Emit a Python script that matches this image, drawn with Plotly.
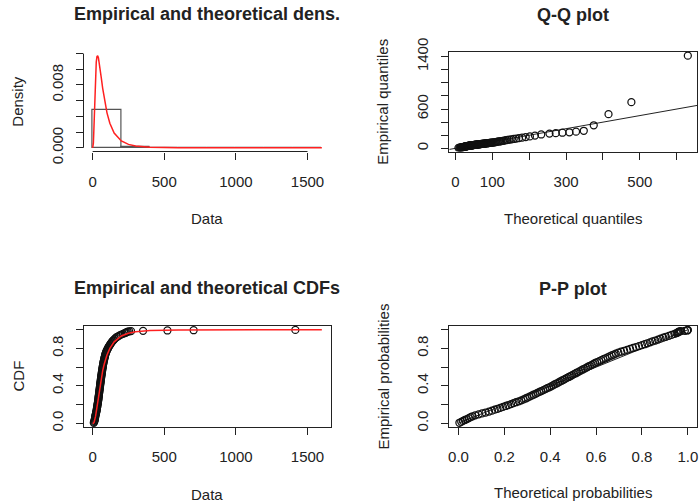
import plotly.graph_objects as go

W, H = 700, 504
FONT = "Liberation Sans, Arial, sans-serif"
INK = "#222222"

# ---------------- data ----------------
# empirical cumulative probabilities of the plotted (sorted) observations
emp_prob = [
    0.005, 0.015, 0.025, 0.035, 0.045, 0.055, 0.065, 0.075, 0.085, 0.095,
    0.105, 0.115, 0.125, 0.135, 0.145, 0.155, 0.165, 0.175, 0.185, 0.195,
    0.205, 0.215, 0.225, 0.235, 0.245, 0.255, 0.265, 0.275, 0.285, 0.295,
    0.305, 0.315, 0.325, 0.335, 0.345, 0.355, 0.365, 0.375, 0.385, 0.395,
    0.405, 0.415, 0.425, 0.435, 0.445, 0.455, 0.465, 0.475, 0.485, 0.495,
    0.505, 0.515, 0.525, 0.535, 0.545, 0.555, 0.565, 0.575, 0.585, 0.595,
    0.605, 0.615, 0.625, 0.635, 0.645, 0.655, 0.665, 0.675, 0.685, 0.695,
    0.705, 0.715, 0.725, 0.735, 0.745, 0.755, 0.765, 0.775, 0.785, 0.795,
    0.805, 0.815, 0.825, 0.835, 0.845, 0.855, 0.865, 0.875, 0.885, 0.895,
    0.905, 0.915, 0.925, 0.935, 0.945, 0.955,
    0.965, 0.970, 0.975, 0.979, 0.982, 0.985, 0.988, 0.992, 0.995, 0.998,
]

# sorted observed data
data_sorted = [
    7.8, 10.5, 12.5, 14.0, 15.3, 16.5, 17.5, 18.5, 19.9, 21.6,
    23.1, 24.5, 26.0, 27.3, 28.4, 29.5, 30.5, 31.6, 32.7, 33.7,
    34.7, 35.8, 36.8, 37.8, 38.8, 39.7, 40.5, 41.2, 42.1, 43.0,
    43.7, 44.5, 45.3, 46.2, 47.0, 47.9, 48.8, 49.5, 50.5, 51.3,
    52.0, 52.9, 53.7, 54.6, 55.3, 56.2, 57.1, 57.9, 58.8, 59.8,
    60.7, 61.5, 62.5, 63.4, 64.3, 65.4, 66.3, 67.3, 68.4, 69.5,
    70.5, 71.6, 72.7, 73.8, 74.9, 76.2, 77.7, 79.1, 80.6, 82.1,
    83.7, 85.3, 86.9, 88.6, 90.4, 92.6, 95.4, 98.2, 101.3, 104.4,
    107.8, 111.4, 115.3, 119.5, 123.5, 127.7, 132.4, 137.3, 143.0, 149.0,
    155.7, 163.2, 171.6, 182.3, 195.0, 211.5,
    225, 232, 238, 245, 255, 268, 352, 522, 705, 1415,
]

# theoretical quantiles (Q-Q x values)
theo_quant = [
    8.3, 11.4, 13.4, 15.1, 16.5, 17.8, 19.0, 20.2, 21.3, 22.3,
    23.3, 24.3, 25.3, 26.2, 27.2, 28.1, 29.0, 29.9, 30.8, 31.7,
    32.6, 33.5, 34.4, 35.3, 36.2, 37.1, 38.0, 38.9, 39.8, 40.7,
    41.6, 42.6, 43.5, 44.4, 45.4, 46.4, 47.3, 48.4, 49.3, 50.4,
    51.4, 52.4, 53.5, 54.6, 55.6, 56.8, 57.9, 59.0, 60.3, 61.4,
    62.6, 63.8, 65.1, 66.4, 67.7, 69.1, 70.4, 71.9, 73.3, 74.8,
    76.3, 77.9, 79.5, 81.2, 82.9, 84.6, 86.5, 88.3, 90.3, 92.3,
    94.4, 96.6, 98.8, 101.2, 103.6, 106.2, 108.9, 111.7, 114.7, 117.9,
    121.2, 124.7, 128.5, 132.5, 136.8, 141.5, 146.5, 152.1, 158.1, 164.8,
    172.3, 180.8, 190.5, 201.9, 215.6, 232.6,
    255, 272, 290, 309, 327, 348, 375, 415, 477, 630,
]

# theoretical probabilities (P-P x values)
theo_prob = [
    0.004, 0.012, 0.020, 0.028, 0.037, 0.045, 0.053, 0.061, 0.073, 0.088,
    0.103, 0.118, 0.133, 0.146, 0.158, 0.170, 0.182, 0.194, 0.206, 0.217,
    0.229, 0.240, 0.251, 0.263, 0.274, 0.284, 0.293, 0.301, 0.310, 0.319,
    0.327, 0.336, 0.344, 0.353, 0.361, 0.370, 0.379, 0.387, 0.396, 0.404,
    0.412, 0.419, 0.427, 0.435, 0.442, 0.450, 0.458, 0.465, 0.473, 0.481,
    0.489, 0.496, 0.504, 0.512, 0.519, 0.527, 0.535, 0.542, 0.550, 0.558,
    0.565, 0.573, 0.581, 0.589, 0.596, 0.605, 0.614, 0.623, 0.632, 0.641,
    0.650, 0.659, 0.668, 0.677, 0.686, 0.697, 0.709, 0.722, 0.735, 0.748,
    0.761, 0.774, 0.787, 0.800, 0.812, 0.823, 0.835, 0.846, 0.858, 0.870,
    0.881, 0.893, 0.904, 0.917, 0.929, 0.942,
    0.951, 0.955, 0.958, 0.961, 0.965, 0.970, 0.987, 0.997, 0.999, 1.000,
]

# fitted density curve (red)
dens_x = [0, 5, 7.5, 10, 12.5, 15, 20, 25, 30, 35, 40, 45, 50, 60, 70, 80, 90,
          100, 120, 150, 200, 250, 300, 400, 600, 1000, 1600]
dens_y = [0, 0.00059, 0.00183, 0.0035, 0.00523, 0.00685, 0.00939, 0.01091,
          0.01161, 0.01173, 0.01147, 0.01097, 0.01034, 0.00895, 0.00758,
          0.00636, 0.00532, 0.00445, 0.00313, 0.00189, 0.00087, 0.000435,
          0.000232, 0.000077, 0.000013, 0.000001, 0]

# fitted CDF curve (red)
cdf_x = [0, 5, 10, 15, 20, 25, 30, 40, 50, 60, 70, 80, 100, 120, 150, 200,
         250, 300, 400, 600, 1000, 1600]
cdf_y = [0, 0.0006, 0.0097, 0.0345, 0.0735, 0.122, 0.176, 0.287, 0.391,
         0.483, 0.562, 0.628, 0.730, 0.801, 0.871, 0.933, 0.963, 0.978,
         0.9916, 0.9982, 0.9998, 1.0]

# histogram (density scale)
hist_edges = [0, 200, 400, 600, 800, 1000, 1200, 1400, 1600]
hist_density = [0.0048, 0.00015, 0.0000167, 0.0000167, 0, 0, 0, 0.0000167]

# ticks
dens_xticks = [0, 500, 1000, 1500]
dens_yticks = [0, 0.002, 0.004, 0.006, 0.008, 0.010, 0.012]
dens_ylabels = ["0.000", "", "", "", "0.008", "", ""]
qq_xticks = [0, 100, 200, 300, 400, 500, 600]
qq_xlabels = ["0", "100", "", "300", "", "500", ""]
qq_yticks = [0, 200, 400, 600, 800, 1000, 1200, 1400]
qq_ylabels = ["0", "", "", "600", "", "", "", "1400"]
prob_ticks = [0, 0.2, 0.4, 0.6, 0.8, 1.0]
prob_ylabels = ["0.0", "", "0.4", "", "0.8", ""]
prob_xlabels = ["0.0", "0.2", "0.4", "0.6", "0.8", "1.0"]

assert len(emp_prob) == len(data_sorted) == len(theo_quant) == len(theo_prob)


def pad(lo, hi, f=0.04):
    d = (hi - lo) * f
    return [lo - d, hi + d]


def dom_x(a, b):
    return [a / W, b / W]


def dom_y(top, bottom):
    return [1 - bottom / H, 1 - top / H]


LEFT = (83.5, 331)
RIGHT = (449.3, 697)
TOP = (52, 151.5)
BOT = (326, 427)

fig = go.Figure()

# ---- panel 1: histogram + density
centers = [(hist_edges[i] + hist_edges[i + 1]) / 2 for i in range(len(hist_density))]
widths = [hist_edges[i + 1] - hist_edges[i] for i in range(len(hist_density))]
fig.add_trace(go.Bar(x=centers, y=hist_density, width=widths,
                     marker=dict(color="rgba(0,0,0,0)", line=dict(color="#555555", width=1.2)),
                     xaxis="x", yaxis="y", showlegend=False, hoverinfo="skip"))
fig.add_trace(go.Scatter(x=dens_x, y=dens_y, mode="lines",
                         line=dict(color="#ff2020", width=1.5),
                         xaxis="x", yaxis="y", showlegend=False))

# ---- panel 2: Q-Q
qq_xr = pad(min(theo_quant), max(theo_quant))
qq_yr = pad(min(data_sorted), max(data_sorted))
fig.add_trace(go.Scatter(x=qq_xr, y=qq_xr, mode="lines",
                         line=dict(color=INK, width=1),
                         xaxis="x2", yaxis="y2", showlegend=False))
MK = dict(symbol="circle-open", size=7, color="#111111", line=dict(width=1.25))
fig.add_trace(go.Scatter(x=theo_quant, y=data_sorted, mode="markers", marker=MK,
                         xaxis="x2", yaxis="y2", showlegend=False))

# ---- panel 3: CDFs
fig.add_trace(go.Scatter(x=data_sorted, y=emp_prob, mode="markers", marker=MK,
                         xaxis="x3", yaxis="y3", showlegend=False))
fig.add_trace(go.Scatter(x=cdf_x, y=cdf_y, mode="lines",
                         line=dict(color="#ff2020", width=1.5),
                         xaxis="x3", yaxis="y3", showlegend=False))

# ---- panel 4: P-P
fig.add_trace(go.Scatter(x=[0, 1], y=[0, 1], mode="lines",
                         line=dict(color=INK, width=1),
                         xaxis="x4", yaxis="y4", showlegend=False))
fig.add_trace(go.Scatter(x=theo_prob, y=emp_prob, mode="markers", marker=MK,
                         xaxis="x4", yaxis="y4", showlegend=False))

tickfont = dict(family=FONT, size=15, color=INK)


def xax(domain, rng, tv, tt, anchor, box=True):
    return dict(domain=domain, range=rng, tickvals=tv, ticktext=tt, anchor=anchor,
                showgrid=False, zeroline=False, showline=box, mirror=box,
                linecolor=INK, linewidth=1, ticks="outside", ticklen=7,
                tickwidth=1, tickcolor=INK, tickfont=tickfont, automargin=False,
                ticklabelstandoff=9, fixedrange=True)


def yax(domain, rng, tv, tt, anchor, box=True):
    return dict(domain=domain, range=rng, tickvals=tv, ticktext=tt, anchor=anchor,
                showgrid=False, zeroline=False, showline=box, mirror=box,
                linecolor=INK, linewidth=1, ticks="outside", ticklen=7,
                tickwidth=1, tickcolor=INK, tickfont=tickfont, tickangle=-90,
                automargin=False, ticklabelstandoff=7, fixedrange=True)


data_xr = pad(hist_edges[0], hist_edges[-1])
dens_yr = pad(0, max(max(dens_y), max(hist_density)))
prob_r = pad(0, 1)

fig.update_layout(
    width=W, height=H, margin=dict(l=0, r=0, t=0, b=0, pad=0, autoexpand=False),
    paper_bgcolor="white", plot_bgcolor="white",
    xaxis=xax(dom_x(*LEFT), data_xr, dens_xticks, [str(v) for v in dens_xticks], "y", box=False),
    yaxis=yax(dom_y(*TOP), dens_yr, dens_yticks, dens_ylabels, "x", box=False),
    xaxis2=xax(dom_x(*RIGHT), qq_xr, qq_xticks, qq_xlabels, "y2"),
    yaxis2=yax(dom_y(*TOP), qq_yr, qq_yticks, qq_ylabels, "x2"),
    xaxis3=xax(dom_x(*LEFT), data_xr, dens_xticks, [str(v) for v in dens_xticks], "y3"),
    yaxis3=yax(dom_y(*BOT), prob_r, prob_ticks, prob_ylabels, "x3"),
    xaxis4=xax(dom_x(*RIGHT), prob_r, prob_ticks, prob_xlabels, "y4"),
    yaxis4=yax(dom_y(*BOT), prob_r, prob_ticks, prob_ylabels, "x4"),
    bargap=0,
)

# panel 1 axis lines span only the tick range (R style)
y_bot = 1 - TOP[1] / H
x_left = LEFT[0] / W
fig.add_shape(type="line", xref="x", yref="paper", x0=dens_xticks[0], x1=dens_xticks[-1],
              y0=y_bot, y1=y_bot, line=dict(color=INK, width=1))
fig.add_shape(type="line", xref="paper", yref="y", x0=x_left, x1=x_left,
              y0=dens_yticks[0], y1=dens_yticks[-1], line=dict(color=INK, width=1))


def ann(text, px, py, size=15, bold=False, angle=0):
    fig.add_annotation(text=f"<b>{text}</b>" if bold else text,
                       x=px / W, y=1 - py / H, xref="paper", yref="paper",
                       xanchor="center", yanchor="middle", showarrow=False,
                       textangle=angle, font=dict(family=FONT, size=size, color=INK))


ann("Empirical and theoretical dens.", 207, 14, 18, True)
ann("Q-Q plot", 573, 15, 18, True)
ann("Empirical and theoretical CDFs", 207, 288, 18, True)
ann("P-P plot", 573, 289, 18, True)
ann("Data", 207, 218)
ann("Theoretical quantiles", 573, 218)
ann("Data", 207, 494)
ann("Theoretical probabilities", 573, 492)
ann("Density", 18, 101.7, angle=-90)
ann("Empirical quantiles", 383, 101.7, angle=-90)
ann("CDF", 18, 376.5, angle=-90)
ann("Empirical probabilities", 383, 376.5, angle=-90)

fig.write_html("out.html")
